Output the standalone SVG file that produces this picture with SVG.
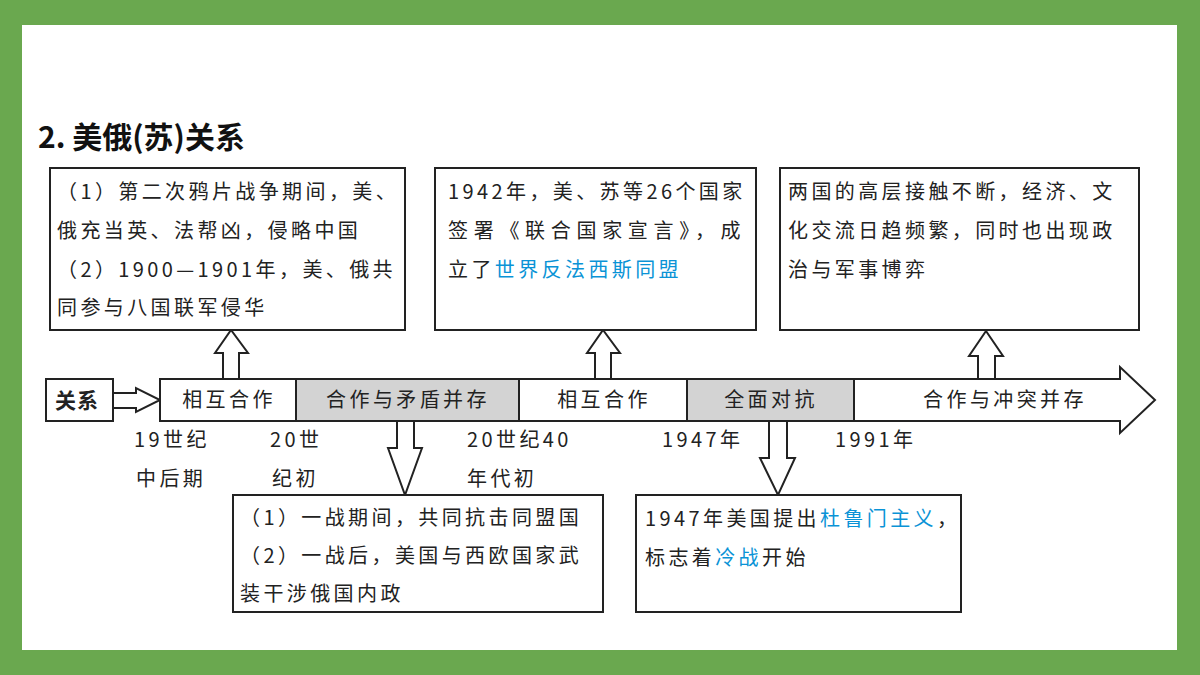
<svg xmlns="http://www.w3.org/2000/svg" width="1200" height="675" viewBox="0 0 1200 675">
<style>
.b{fill:#fff;stroke:#222;stroke-width:2}
.g{fill:#d3d3d3;stroke:#222;stroke-width:2}
.a{fill:#fff;stroke:#222;stroke-width:2;stroke-linejoin:miter}
text{font-family:"Noto Sans CJK SC","Liberation Serif",serif;font-size:20px;fill:#222;letter-spacing:3.4px}
.c{text-anchor:middle}
.bl{fill:#0a93d6}
</style>
<rect width="1200" height="675" fill="#6aa84f"/>
<rect x="22" y="25" width="1155" height="625" fill="#fff"/>
<text x="38" y="148" style="font-size:30px;font-weight:bold;letter-spacing:0;fill:#111">2.  美俄(苏)关系</text>
<g id="connectors">
<polygon class="a" points="113,393 136,393 136,388 160,400 136,412 136,408 113,408"/>
<polygon class="a" points="223,379 223,353 215,353 231,330 248,353 239,353 239,379"/>
<polygon class="a" points="595,379 595,353 587,353 603,330 620,353 611,353 611,379"/>
<polygon class="a" points="978,379 978,356 969,356 986,331 1003,356 995,356 995,379"/>
<polygon class="a" points="397,421 397,448 388,448 405,495 422,448 414,448 414,421"/>
<polygon class="a" points="769,421 769,458 760,458 778,495 795,458 787,458 787,421"/>
</g>
<g id="timeline">
<polygon class="b" points="854,379 1120,379 1120,367 1155,400 1120,433 1120,421 854,421"/>
<rect class="b" x="160" y="379" width="136" height="42"/>
<rect class="g" x="296" y="379" width="223" height="42"/>
<rect class="b" x="519" y="379" width="168" height="42"/>
<rect class="g" x="687" y="379" width="167" height="42"/>
<text class="c" x="229" y="407">相互合作</text>
<text class="c" x="408" y="407">合作与矛盾并存</text>
<text class="c" x="604" y="407">相互合作</text>
<text class="c" x="771" y="407">全面对抗</text>
<text class="c" x="1005" y="407">合作与冲突并存</text>
</g>
<g id="rel"><rect class="b" x="46" y="379" width="67" height="42"/><text x="55" y="408" style="font-weight:bold;font-size:21px;letter-spacing:1px">关系</text></g>
<g id="labels">
<text x="134" y="447">19世纪</text><text x="136" y="486">中后期</text>
<text x="270" y="447">20世</text><text x="272" y="486">纪初</text>
<text x="467" y="447">20世纪40</text><text x="467" y="486">年代初</text>
<text x="662" y="447">1947年</text>
<text x="835" y="447">1991年</text>
</g>
<g id="box1"><rect class="b" x="50" y="168" width="355" height="162"/>
<text x="57" y="199">（1）第二次鸦片战争期间，美、</text>
<text x="57" y="238">俄充当英、法帮凶，侵略中国</text>
<text x="57" y="277">（2）1900—1901年，美、俄共</text>
<text x="57" y="315">同参与八国联军侵华</text></g>
<g id="box2"><rect class="b" x="435" y="168" width="321" height="162"/>
<text x="448" y="199">1942年，美、苏等26个国家</text>
<text x="448" y="238" textLength="296">签署《联合国家宣言》，成</text>
<text x="448" y="277">立了<tspan class="bl">世界反法西斯同盟</tspan></text></g>
<g id="box3"><rect class="b" x="780" y="168" width="359" height="162"/>
<text x="788" y="199">两国的高层接触不断，经济、文</text>
<text x="788" y="238">化交流日趋频繁，同时也出现政</text>
<text x="788" y="277">治与军事博弈</text></g>
<g id="box4"><rect class="b" x="233" y="495" width="370" height="117"/>
<text x="240" y="525">（1）一战期间，共同抗击同盟国</text>
<text x="240" y="563">（2）一战后，美国与西欧国家武</text>
<text x="240" y="601">装干涉俄国内政</text></g>
<g id="box5"><rect class="b" x="636" y="495" width="325" height="117"/>
<text x="645" y="526">1947年美国提出<tspan class="bl">杜鲁门主义</tspan>，</text>
<text x="645" y="565">标志着<tspan class="bl">冷战</tspan>开始</text></g>
</svg>
